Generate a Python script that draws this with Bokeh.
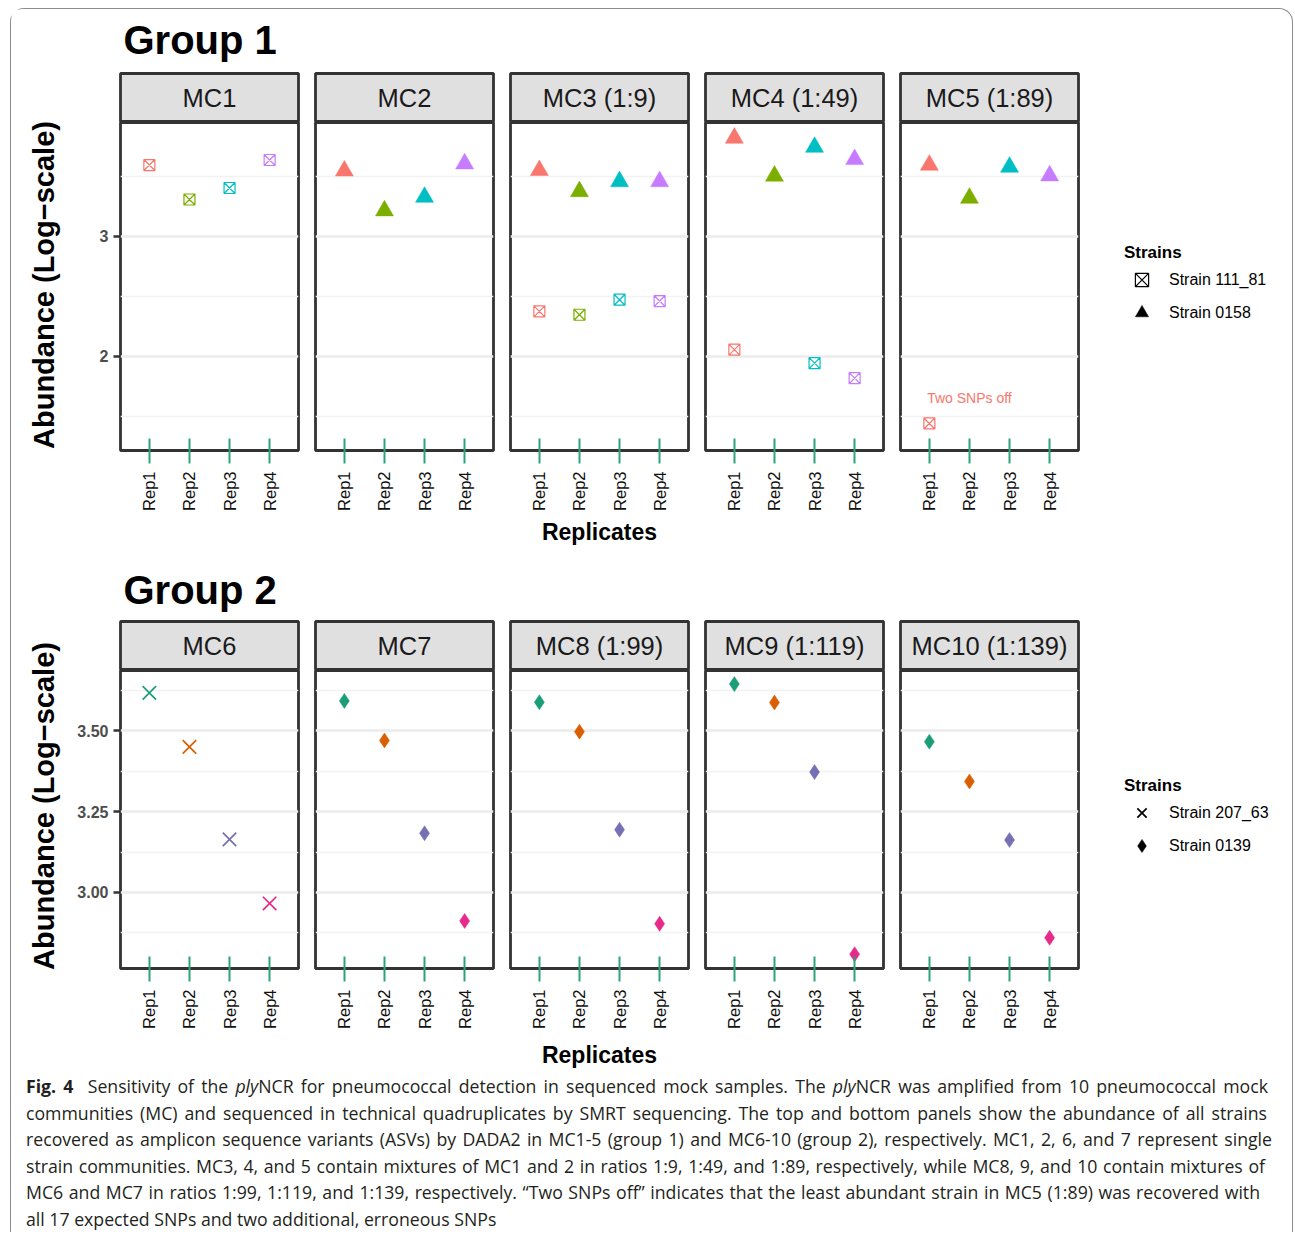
import math
from bokeh.plotting import figure
from bokeh.models import (ColumnDataSource, FactorRange, Range1d, FixedTicker, LinearAxis,
                          Grid, Label, Legend, LegendItem, NumeralTickFormatter, Div)
from bokeh.layouts import column, row
from bokeh.embed import file_html
from bokeh.resources import INLINE
from bokeh.core.properties import value

# ---------------- data ----------------
replicates = ["Rep1", "Rep2", "Rep3", "Rep4"]
y_label = "Abundance (Log\u2212scale)"
x_label = "Replicates"
legend_title = "Strains"

g1_title = "Group 1"
g1_panels = ["MC1", "MC2", "MC3 (1:9)", "MC4 (1:49)", "MC5 (1:89)"]
g1_colors = ["#F8766D", "#7CAE00", "#00BFC4", "#C77CFF"]
g1_strain_111_81 = {
    "MC1": [3.593, 3.306, 3.402, 3.635],
    "MC3 (1:9)": [2.375, 2.347, 2.472, 2.461],
    "MC4 (1:49)": [2.056, None, 1.944, 1.819],
    "MC5 (1:89)": [1.442, None, None, None],
}
g1_strain_0158 = {
    "MC2": [3.545, 3.213, 3.326, 3.604],
    "MC3 (1:9)": [3.549, 3.373, 3.456, 3.456],
    "MC4 (1:49)": [3.818, 3.502, 3.742, 3.640],
    "MC5 (1:89)": [3.593, 3.318, 3.576, 3.504],
}
g1_y_range = [1.217, 3.947]
g1_y_ticks = [2, 3]
g1_y_minor = [1.5, 2.5, 3.5]
g1_note_text = "Two SNPs off"
g1_note_panel = "MC5 (1:89)"
g1_note_x = "Rep2"
g1_note_y = 1.65

g2_title = "Group 2"
g2_panels = ["MC6", "MC7", "MC8 (1:99)", "MC9 (1:119)", "MC10 (1:139)"]
g2_colors = ["#1B9E77", "#D95F02", "#7570B3", "#E7298A"]
g2_strain_207_63 = {
    "MC6": [3.617, 3.450, 3.164, 2.966],
}
g2_strain_0139 = {
    "MC7": [3.592, 3.470, 3.183, 2.912],
    "MC8 (1:99)": [3.588, 3.497, 3.194, 2.903],
    "MC9 (1:119)": [3.644, 3.587, 3.372, 2.809],
    "MC10 (1:139)": [3.466, 3.343, 3.162, 2.860],
}
g2_y_range = [2.765, 3.686]
g2_y_ticks = [3.0, 3.25, 3.5]
g2_y_minor = [2.875, 3.125, 3.375, 3.625]

caption_lines = [
    "<b>Fig. 4</b>&nbsp; Sensitivity of the <i>ply</i>NCR for pneumococcal detection in sequenced mock samples. The <i>ply</i>NCR was amplified from 10 pneumococcal mock",
    "communities (MC) and sequenced in technical quadruplicates by SMRT sequencing. The top and bottom panels show the abundance of all strains",
    "recovered as amplicon sequence variants (ASVs) by DADA2 in MC1-5 (group 1) and MC6-10 (group 2), respectively. MC1, 2, 6, and 7 represent single",
    "strain communities. MC3, 4, and 5 contain mixtures of MC1 and 2 in ratios 1:9, 1:49, and 1:89, respectively, while MC8, 9, and 10 contain mixtures of",
    "MC6 and MC7 in ratios 1:99, 1:119, and 1:139, respectively. \u201cTwo SNPs off\u201d indicates that the least abundant strain in MC5 (1:89) was recovered with",
    "all 17 expected SNPs and two additional, erroneous SNPs",
]
caption_line_widths = [1242, 1241, 1246, 1239, 1234, None]

# ---------------- style ----------------
FONT = "Liberation Sans"
FRAME_W = 178
STRIP_H = 49
TOP_PAD = 2
YLAB_W = 60
FIRST_LEFT = 49
GAP_LEFT = 15
RIGHT_PAD = 2
LEG_LEFT = 44
LEG_W = 158
ROW_W = YLAB_W + (FIRST_LEFT + FRAME_W + RIGHT_PAD) + 4 * (GAP_LEFT + FRAME_W + RIGHT_PAD) + LEG_LEFT + LEG_W
FRAME_COLOR = "#333333"
FRAME_LW = 2.8
STRIP_FILL = "#E1E0E1"
TICK_GREEN = "#2EA37A"
X_PAD = 0.22

MARKER_STYLE = {
    "square_x": dict(size=11, fill=False, lw=1.2),
    "triangle": dict(size=18, fill=True, lw=0.5),
    "x": dict(size=19, fill=False, lw=1.7),
    "diamond": dict(size=15, fill=True, lw=0.5),
}


def add_points(p, src, marker, color="color"):
    st = MARKER_STYLE[marker]
    if st["fill"]:
        return p.scatter(x="rep", y="val", source=src, marker=marker, size=st["size"],
                         fill_color=color, line_color=color, line_width=st["lw"])
    return p.scatter(x="rep", y="val", source=src, marker=marker, size=st["size"],
                     fill_color=None, line_color=color, line_width=st["lw"])


def text_fig(w, h):
    p = figure(frame_width=w, frame_height=h, x_range=Range1d(0, w), y_range=Range1d(0, h),
               min_border=0, x_axis_location=None, y_axis_location=None,
               toolbar_location=None, output_backend="svg", title=None)
    p.outline_line_color = None
    p.grid.visible = False
    return p


def ylab_div(h, cx, cy):
    html = ('<div style="position:relative;width:%dpx;height:%dpx;">'
            '<div style="position:absolute;left:%dpx;top:%dpx;transform:translate(-50%%,-50%%) rotate(-90deg);'
            'white-space:nowrap;font-family:\'Liberation Sans\';font-weight:bold;font-size:29px;'
            'line-height:1.15;color:black;">%s</div></div>') % (YLAB_W, h, cx, cy, y_label)
    return Div(text=html, width=YLAB_W, height=h, margin=0)


def build_group(title, panels, strains, colors, y_range, y_ticks, y_minor, y_fmt,
                frame_h, bottom, title_h, title_y, ylab_cy, xlab_standoff, note=None):
    col_h = TOP_PAD + STRIP_H + frame_h + bottom
    tfig = text_fig(ROW_W, title_h)
    tfig.add_layout(Label(x=112, y=title_y, text=title, text_font=FONT, text_font_size="40px",
                          text_font_style="bold", text_color="black", text_baseline="middle"))

    children = [ylab_div(col_h, 34, ylab_cy)]
    legend_sources = {}
    for i, name in enumerate(panels):
        left = FIRST_LEFT if i == 0 else GAP_LEFT
        strip = figure(frame_width=FRAME_W, frame_height=STRIP_H, x_range=Range1d(0, 1), y_range=Range1d(0, 1),
                       min_border_left=left, min_border_right=RIGHT_PAD, min_border_top=TOP_PAD,
                       min_border_bottom=0, x_axis_location=None, y_axis_location=None,
                       toolbar_location=None, output_backend="svg", title=None)
        strip.background_fill_color = STRIP_FILL
        strip.outline_line_color = FRAME_COLOR
        strip.outline_line_width = FRAME_LW
        strip.grid.visible = False
        strip.add_layout(Label(x=0.5, y=0.5, text=name, text_align="center", text_baseline="middle",
                               text_font=FONT, text_font_size="25.5px", text_color="#1A1A1A"))

        p = figure(x_range=FactorRange(factors=replicates, range_padding=X_PAD, range_padding_units="absolute"),
                   y_range=Range1d(*y_range), frame_width=FRAME_W, frame_height=frame_h,
                   min_border_left=left, min_border_right=RIGHT_PAD, min_border_top=0,
                   min_border_bottom=bottom, y_axis_location=None,
                   toolbar_location=None, output_backend="svg", title=None)
        p.outline_line_color = FRAME_COLOR
        p.outline_line_width = FRAME_LW
        for g in p.grid:
            g.visible = False
        p.add_layout(Grid(dimension=1, ticker=FixedTicker(ticks=y_ticks, minor_ticks=y_minor),
                          grid_line_color="#EBEBEB", grid_line_width=2.6,
                          minor_grid_line_color="#F2F2F2", minor_grid_line_width=1.5))
        ax = p.xaxis[0]
        ax.axis_line_color = None
        ax.major_tick_in = 12
        ax.major_tick_out = 13
        ax.major_tick_line_color = TICK_GREEN
        ax.major_tick_line_width = 2
        ax.minor_tick_line_color = None
        ax.major_label_orientation = math.pi / 2
        ax.major_label_standoff = 8
        ax.major_label_text_font = FONT
        ax.major_label_text_font_size = "16.5px"
        ax.major_label_text_color = "#111111"
        if i == 2:
            ax.axis_label = x_label
            ax.axis_label_text_font = FONT
            ax.axis_label_text_font_size = "23px"
            ax.axis_label_text_font_style = "bold"
            ax.axis_label_text_color = "black"
            ax.axis_label_standoff = xlab_standoff
        if i == 0:
            ya = LinearAxis(ticker=FixedTicker(ticks=y_ticks), formatter=NumeralTickFormatter(format=y_fmt))
            ya.axis_line_color = None
            ya.major_tick_in = 0
            ya.major_tick_out = 7
            ya.major_tick_line_color = FRAME_COLOR
            ya.major_tick_line_width = 2.5
            ya.minor_tick_line_color = None
            ya.major_label_standoff = 5
            ya.major_label_text_font = FONT
            ya.major_label_text_font_size = "16px"
            ya.major_label_text_font_style = "bold"
            ya.major_label_text_color = "#4D4D4D"
            p.add_layout(ya, "left")

        for label, data, marker in strains:
            vals = data.get(name)
            if not vals:
                continue
            pts = [(r, v, c) for r, v, c in zip(replicates, vals, colors) if v is not None]
            src = ColumnDataSource(dict(rep=[a for a, _, _ in pts], val=[b for _, b, _ in pts],
                                        color=[c for _, _, c in pts]))
            add_points(p, src, marker)
            legend_sources.setdefault(label, src)

        if note is not None and name == note[0]:
            p.text(x=[note[1]], y=[note[2]], text=[note[3]], text_font=value(FONT),
                   text_font_size="14px", text_color=colors[0], text_align="center",
                   text_baseline="middle")

        children.append(column([strip, p], spacing=0))

    lf = figure(x_range=FactorRange(factors=replicates), y_range=Range1d(*y_range),
                frame_width=LEG_W, frame_height=frame_h, min_border_left=LEG_LEFT, min_border_right=0,
                min_border_top=TOP_PAD + STRIP_H, min_border_bottom=bottom,
                x_axis_location=None, y_axis_location=None,
                toolbar_location=None, output_backend="svg", title=None)
    lf.outline_line_color = None
    lf.grid.visible = False
    items = []
    for label, data, marker in strains:
        r = add_points(lf, legend_sources[label], marker, color="black")
        r.visible = False
        items.append(LegendItem(label=label, renderers=[r], index=0))
    leg = Legend(items=items, title=legend_title, location="center_left", margin=0, padding=2,
                 glyph_width=35, glyph_height=33, spacing=0, label_standoff=10,
                 title_standoff=0, border_line_color=None, background_fill_alpha=0,
                 title_text_font=FONT, title_text_font_size="17px", title_text_font_style="bold",
                 title_text_color="black", label_text_font=FONT, label_text_font_size="16px",
                 label_text_color="black")
    lf.add_layout(leg)
    children.append(lf)

    return tfig, row(children, spacing=0)


g1_t, g1_row = build_group(
    g1_title, g1_panels,
    [("Strain 111_81", g1_strain_111_81, "square_x"), ("Strain 0158", g1_strain_0158, "triangle")],
    g1_colors, g1_y_range, g1_y_ticks, g1_y_minor, "0",
    frame_h=328, bottom=110, title_h=62, title_y=32, ylab_cy=214, xlab_standoff=5,
    note=(g1_note_panel, g1_note_x, g1_note_y, g1_note_text))

g2_t, g2_row = build_group(
    g2_title, g2_panels,
    [("Strain 207_63", g2_strain_207_63, "x"), ("Strain 0139", g2_strain_0139, "diamond")],
    g2_colors, g2_y_range, g2_y_ticks, g2_y_minor, "0.00",
    frame_h=298, bottom=104, title_h=59, title_y=30, ylab_cy=187, xlab_standoff=10)

line_divs = []
for txt, w in zip(caption_lines, caption_line_widths):
    if w is None:
        line_divs.append('<div style="white-space:nowrap;">' + txt + '</div>')
    else:
        line_divs.append('<div style="width:%dpx;text-align:justify;text-align-last:justify;'
                         'white-space:normal;">' % w + txt + '</div>')
cap_html = ('<div style="font-family:\'Open Sans\',sans-serif;font-size:17.7px;line-height:26.6px;'
            'color:#231F20;padding:0 0 0 10px;margin-top:-4px;">'
            + "".join(line_divs) + "</div>")
caption = Div(text=cap_html, width=ROW_W, height=150, styles={"overflow": "visible"})

page = column([g1_t, g1_row, g2_t, g2_row, caption], spacing=0, margin=(8, 0, 0, 10),
              styles={"border-top": "1px solid #8C8C8C", "border-left": "1px solid #8C8C8C",
                      "border-right": "1px solid #8C8C8C", "border-top-left-radius": "14px",
                      "border-top-right-radius": "14px"})

open("out.html", "w").write(file_html(page, INLINE))
